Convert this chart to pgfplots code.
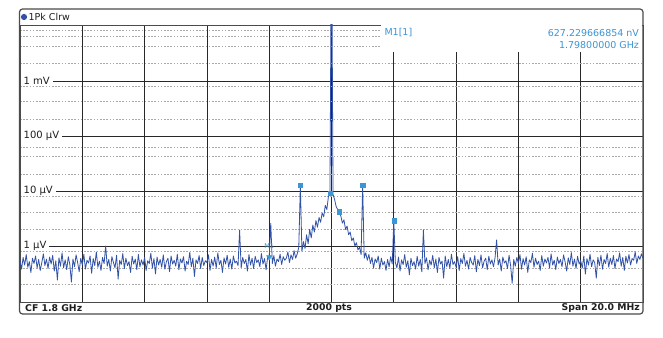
\documentclass[border=0pt]{standalone}
\usepackage{fontspec}
\setmainfont{DejaVu Sans}
\usepackage{pgfplots}
\pgfplotsset{compat=1.18}
\usepackage{pgfplotstable}
\definecolor{trace}{RGB}{50,82,168}
\definecolor{mk}{RGB}{58,150,212}
\definecolor{gridmaj}{RGB}{40,40,40}
\definecolor{gridmin}{RGB}{170,170,170}
\definecolor{frm}{RGB}{75,75,75}
\definecolor{txt}{RGB}{30,30,30}
\definecolor{dot}{RGB}{50,80,170}

% trace values in microvolts, 401 points from 1790 MHz to 1810 MHz (0.05 MHz step)
\pgfplotstableread[header=false,row sep=\\]{
0.55\\0.38\\0.62\\0.45\\0.70\\0.41\\0.52\\0.33\\0.60\\0.48\\0.66\\0.40\\0.57\\0.36\\0.50\\0.72\\0.44\\0.58\\0.39\\0.63\\
0.47\\0.68\\0.35\\0.54\\0.24\\0.61\\0.43\\0.75\\0.40\\0.56\\0.37\\0.64\\0.46\\0.22\\0.58\\0.42\\0.69\\0.50\\0.34\\0.60\\
0.45\\0.71\\0.38\\0.55\\0.49\\0.66\\0.32\\0.59\\0.44\\0.78\\0.41\\0.53\\0.36\\0.62\\0.48\\1.00\\0.43\\0.57\\0.35\\0.64\\
0.50\\0.40\\0.68\\0.25\\0.55\\0.46\\0.73\\0.39\\0.60\\0.44\\0.52\\0.33\\0.65\\0.47\\0.58\\0.37\\0.70\\0.42\\0.56\\0.45\\
0.62\\0.36\\0.54\\0.48\\0.74\\0.40\\0.59\\0.31\\0.63\\0.45\\0.57\\0.41\\0.69\\0.38\\0.52\\0.60\\0.34\\0.66\\0.47\\0.55\\
0.43\\0.71\\0.37\\0.58\\0.49\\0.64\\0.35\\0.53\\0.46\\0.77\\0.42\\0.60\\0.28\\0.56\\0.48\\0.67\\0.39\\0.62\\0.44\\0.54\\
0.50\\0.69\\0.36\\0.57\\0.43\\0.63\\0.40\\0.75\\0.46\\0.55\\0.33\\0.61\\0.47\\0.68\\0.41\\0.58\\0.38\\0.66\\0.49\\0.53\\
0.44\\1.95\\0.40\\0.62\\0.48\\0.57\\0.35\\0.70\\0.45\\0.60\\0.39\\0.65\\0.50\\0.56\\0.42\\0.73\\0.47\\0.59\\0.37\\0.63\\
0.627\\2.60\\0.48\\0.67\\0.43\\0.58\\0.52\\0.71\\0.46\\0.64\\0.55\\0.60\\0.78\\0.50\\0.69\\0.57\\0.82\\0.60\\0.72\\0.95\\
12.9\\0.80\\1.20\\0.90\\1.60\\1.10\\2.00\\1.40\\2.40\\1.80\\2.90\\2.20\\3.30\\2.70\\4.00\\3.40\\5.50\\4.60\\7.80\\9.20\\
1000000\\8.60\\7.00\\5.20\\4.60\\4.20\\3.50\\2.60\\3.00\\2.00\\2.30\\1.60\\1.80\\1.25\\1.40\\1.00\\1.15\\0.85\\0.95\\0.70\\
12.9\\0.60\\0.75\\0.55\\0.70\\0.48\\0.62\\0.40\\0.58\\0.50\\0.66\\0.38\\0.60\\0.45\\0.52\\0.36\\0.57\\0.42\\0.64\\0.47\\
2.88\\0.50\\0.40\\0.63\\0.35\\0.56\\0.46\\0.70\\0.41\\0.54\\0.30\\0.60\\0.44\\0.52\\0.38\\0.65\\0.43\\0.57\\0.34\\1.95\\
0.48\\0.61\\0.37\\0.55\\0.45\\0.68\\0.40\\0.58\\0.33\\0.62\\0.47\\0.53\\0.26\\0.66\\0.42\\0.57\\0.39\\0.71\\0.46\\0.52\\
0.41\\0.64\\0.36\\0.59\\0.48\\0.73\\0.43\\0.55\\0.38\\0.62\\0.50\\0.45\\0.67\\0.34\\0.57\\0.44\\0.69\\0.40\\0.53\\0.60\\
0.37\\0.65\\0.47\\0.56\\0.42\\0.61\\1.29\\0.45\\0.58\\0.35\\0.63\\0.49\\0.54\\0.39\\0.68\\0.44\\0.21\\0.57\\0.43\\0.62\\
0.48\\0.70\\0.38\\0.59\\0.45\\0.64\\0.33\\0.56\\0.50\\0.74\\0.41\\0.60\\0.46\\0.53\\0.36\\0.67\\0.43\\0.58\\0.49\\0.62\\
0.40\\0.72\\0.45\\0.55\\0.37\\0.63\\0.48\\0.57\\0.42\\0.69\\0.51\\0.35\\0.61\\0.46\\0.76\\0.43\\0.58\\0.39\\0.65\\0.47\\
0.54\\0.40\\0.66\\0.31\\0.59\\0.45\\0.71\\0.42\\0.56\\0.50\\0.26\\0.62\\0.44\\0.68\\0.38\\0.57\\0.48\\0.73\\0.41\\0.60\\
0.46\\0.67\\0.39\\0.58\\0.52\\0.75\\0.43\\0.62\\0.36\\0.65\\0.49\\0.70\\0.45\\0.59\\0.55\\0.78\\0.48\\0.66\\0.57\\0.72\\
0.60\\
}\tracedata

\begin{document}
\begin{tikzpicture}
\useasboundingbox (0pt,0pt) rectangle (663pt,337pt);
\fill[white] (0pt,0pt) rectangle (663pt,337pt);
\begin{axis}[
  at={(20pt,35pt)}, anchor=south west,
  width=623pt, height=277pt, scale only axis,
  xmin=1790, xmax=1810,
  ymode=log, ymin=0.0959, ymax=10420,
  xtick={1790,1792,...,1810}, xticklabels={},
  ytick={1,10,100,1000}, yticklabels={},
  minor ytick={0.2,0.4,0.8,2,4.1,8.1,20,42,63,204,420,811,2100,4200,6390,8210},
  major tick length=0pt, minor tick length=0pt,
  xmajorgrids, ymajorgrids, yminorgrids,
  major grid style={draw=gridmaj, line width=0.75pt},
  minor grid style={draw=gridmin, line width=0.6pt, dash pattern=on 1.6pt off 1.6pt},
  axis line style={draw=frm, line width=0.8pt},
  clip=true,
  every node/.append style={font=\fontsize{9}{10}\selectfont},
]
\addplot[trace, line width=0.8pt, line join=round] table[x expr={1790+0.05*\coordindex}, y index=0] {\tracedata};
\addplot[only marks, mark=square*, mark size=2.1pt, color=mk] coordinates {(1799.0,12.9) (1799.95,9.2) (1800.25,4.2) (1801.0,12.9) (1802.0,2.88)};
\addplot[only marks, mark=triangle*, mark size=3pt, mark options={rotate=180}, color=mk] coordinates {(1798.0,0.627)};
\node[text=mk, font=\fontsize{6.5}{7}\selectfont] at (axis cs:1798.0,1.0) {M1};
\node[anchor=west, fill=white, inner xsep=3pt, inner ysep=0.3pt, xshift=0.5pt, text=txt] at (axis cs:1790,1000) {1 mV};
\node[anchor=west, fill=white, inner xsep=3pt, inner ysep=0.3pt, xshift=0.5pt, text=txt] at (axis cs:1790,100) {100 µV};
\node[anchor=west, fill=white, inner xsep=3pt, inner ysep=0.3pt, xshift=0.5pt, text=txt] at (axis cs:1790,10) {10 µV};
\node[anchor=west, fill=white, inner xsep=3pt, inner ysep=0.3pt, xshift=0.5pt, text=txt] at (axis cs:1790,1) {1 µV};
\end{axis}
\begin{scope}[x=1pt,y=1pt]
% marker readout box
\fill[white] (381,285) rectangle (642.4,311.5);
\node[anchor=west, text=mk, font=\fontsize{9.5}{10}\selectfont] at (381,304) {M1[1]};
\node[anchor=east, text=mk, font=\fontsize{9.5}{10}\selectfont] at (642.5,304) {627.229666854 nV};
\node[anchor=east, text=mk, font=\fontsize{9.5}{10}\selectfont] at (642.5,292) {1.79800000 GHz};
% outer frame, header and footer
\draw[frm, line width=1.2pt, rounded corners=3pt] (19.5,23) rectangle (643,328);
\fill[dot] (24,320) circle (3.1);
\node[anchor=west, text=txt, font=\fontsize{9.5}{11}\selectfont, inner xsep=0pt] at (28.5,320) {1Pk Clrw};
\node[anchor=west, text=txt, font=\bfseries\fontsize{9.3}{11}\selectfont, inner xsep=0pt] at (25,29) {CF 1.8 GHz};
\node[text=txt, font=\bfseries\fontsize{9.3}{11}\selectfont] at (329,29) {2000 pts};
\node[anchor=east, text=txt, font=\bfseries\fontsize{9.3}{11}\selectfont, inner xsep=0pt] at (640,29) {Span 20.0 MHz};
\end{scope}
\end{tikzpicture}
\end{document}
